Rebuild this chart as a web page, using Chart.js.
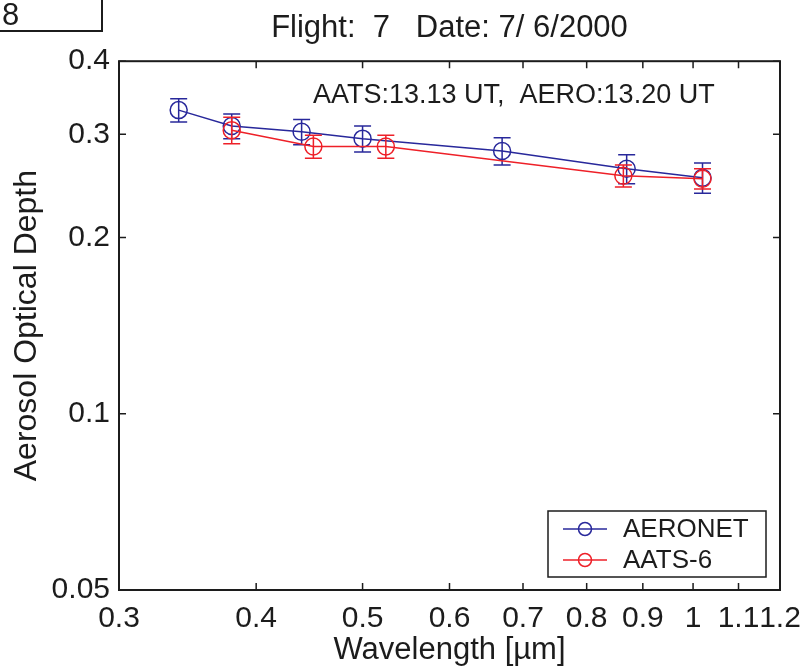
<!DOCTYPE html>
<html>
<head>
<meta charset="utf-8">
<script src="https://cdn.jsdelivr.net/npm/chart.js@4/dist/chart.umd.min.js"></script>
<style>
  body { margin: 0; background: #fff; }
  canvas { display: block; }
</style>
</head>
<body>
<canvas id="aodChart" width="806" height="671"></canvas>
<script>
// AOD spectra, flight 7
const aeronetWl  = [0.340, 0.380, 0.440, 0.500, 0.670, 0.870, 1.020];
const aeronetAod = [0.330, 0.310, 0.303, 0.295, 0.281, 0.262, 0.253];
const aeronetErr = [0.015, 0.015, 0.015, 0.015, 0.015, 0.015, 0.015];

const aatsWl  = [0.380, 0.451, 0.525, 0.864, 1.020];
const aatsAod = [0.305, 0.286, 0.286, 0.255, 0.252];
const aatsErr = [0.016, 0.013, 0.013, 0.011, 0.010];

const xTicks = [0.3, 0.4, 0.5, 0.6, 0.7, 0.8, 0.9, 1, 1.1, 1.2];
const yTicks = [0.05, 0.1, 0.2, 0.3, 0.4];

const BLUE = "rgb(40,40,155)";
const RED = "rgb(238,32,40)";
const INK = "#1c1c1c";
const FONT = "'Liberation Sans', Arial, sans-serif";

Chart.defaults.font.family = FONT;
Chart.defaults.color = INK;

function toPoints(xs, ys, errs) {
  return xs.map((x, i) => ({ x: x, y: ys[i], err: errs[i] }));
}

const overlay = {
  id: "overlay",
  afterDatasetDraw(chart, args) {
    const ctx = chart.ctx;
    const ds = chart.data.datasets[args.index];
    const xs = chart.scales.x, ys = chart.scales.y;
    ctx.save();
    ctx.strokeStyle = ds.borderColor;
    ctx.lineWidth = 1.5;
    ds.data.forEach(p => {
      const px = xs.getPixelForValue(p.x);
      const top = ys.getPixelForValue(p.y + p.err);
      const bot = ys.getPixelForValue(p.y - p.err);
      ctx.beginPath();
      ctx.moveTo(px, top); ctx.lineTo(px, bot);
      ctx.moveTo(px - 8.5, top); ctx.lineTo(px + 8.5, top);
      ctx.moveTo(px - 8.5, bot); ctx.lineTo(px + 8.5, bot);
      ctx.stroke();
    });
    ctx.restore();
  },
  afterDraw(chart) {
    const ctx = chart.ctx;
    const a = chart.chartArea;
    const xs = chart.scales.x, ys = chart.scales.y;
    ctx.save();

    // axes box with inward ticks
    ctx.strokeStyle = INK;
    ctx.lineWidth = 2;
    ctx.strokeRect(a.left, a.top, a.right - a.left, a.bottom - a.top);
    ctx.lineWidth = 1.5;
    ctx.beginPath();
    xTicks.forEach(v => {
      const px = xs.getPixelForValue(v);
      ctx.moveTo(px, a.bottom); ctx.lineTo(px, a.bottom - 7);
      ctx.moveTo(px, a.top); ctx.lineTo(px, a.top + 7);
    });
    yTicks.forEach(v => {
      const py = ys.getPixelForValue(v);
      ctx.moveTo(a.left, py); ctx.lineTo(a.left + 7, py);
      ctx.moveTo(a.right, py); ctx.lineTo(a.right - 7, py);
    });
    ctx.stroke();

    // time stamp
    ctx.fillStyle = INK;
    ctx.font = "27px " + FONT;
    ctx.textAlign = "left";
    ctx.textBaseline = "middle";
    ctx.fillText("AATS:13.13 UT,  AERO:13.20 UT", 313, 96);

    // legend
    const lx = 548, ly = 511, lw = 218, lh = 66;
    ctx.fillStyle = "#fff";
    ctx.fillRect(lx, ly, lw, lh);
    ctx.strokeStyle = INK;
    ctx.lineWidth = 1.5;
    ctx.strokeRect(lx, ly, lw, lh);
    chart.data.datasets.forEach((ds, i) => {
      const y = 529 + i * 31;
      ctx.strokeStyle = ds.borderColor;
      ctx.lineWidth = 1.5;
      ctx.beginPath();
      ctx.moveTo(563, y); ctx.lineTo(607, y);
      ctx.stroke();
      ctx.beginPath();
      ctx.arc(585, y, 6.5, 0, Math.PI * 2);
      ctx.stroke();
      ctx.fillStyle = INK;
      ctx.font = "26px " + FONT;
      ctx.fillText(ds.label, 623, y + 1);
    });

    // page number box
    ctx.strokeStyle = INK;
    ctx.lineWidth = 2;
    ctx.strokeRect(-2, -2, 104, 33);
    ctx.fillStyle = INK;
    ctx.font = "31px " + FONT;
    ctx.fillText("8", 2, 16);

    ctx.restore();
  }
};

new Chart(document.getElementById("aodChart"), {
  type: "scatter",
  data: {
    datasets: [
      {
        label: "AERONET",
        data: toPoints(aeronetWl, aeronetAod, aeronetErr),
        borderColor: BLUE,
        backgroundColor: "rgba(0,0,0,0)",
        showLine: true,
        borderWidth: 1.5,
        pointRadius: 8.5,
        pointBorderWidth: 1.5,
        order: 1
      },
      {
        label: "AATS-6",
        data: toPoints(aatsWl, aatsAod, aatsErr),
        borderColor: RED,
        backgroundColor: "rgba(0,0,0,0)",
        showLine: true,
        borderWidth: 1.5,
        pointRadius: 8.5,
        pointBorderWidth: 1.5,
        order: 0
      }
    ]
  },
  options: {
    responsive: false,
    animation: false,
    layout: { padding: { left: 0, right: 26, top: 0, bottom: 0 } },
    plugins: {
      legend: { display: false },
      tooltip: { enabled: false },
      title: {
        display: true,
        fullSize: false,
        text: "Flight:  7   Date: 7/ 6/2000",
        color: INK,
        font: { size: 31, weight: "normal" },
        padding: { top: 10, bottom: 14 }
      }
    },
    scales: {
      x: {
        type: "logarithmic",
        min: 0.3,
        max: 1.2,
        grid: { display: false, drawTicks: false },
        border: { display: false },
        afterBuildTicks: s => { s.ticks = xTicks.map(v => ({ value: v })); },
        afterFit: s => { s.height = 81; s.paddingLeft = 0; s.paddingRight = 0; },
        ticks: {
          autoSkip: false,
          maxRotation: 0,
          padding: 11,
          color: INK,
          font: { size: 30 },
          callback: v => String(v)
        },
        title: {
          display: true,
          text: "Wavelength [µm]",
          color: INK,
          font: { size: 31 },
          padding: { top: 0, bottom: 2 }
        }
      },
      y: {
        type: "logarithmic",
        min: 0.05,
        max: 0.4,
        grid: { display: false, drawTicks: false },
        border: { display: false },
        afterBuildTicks: s => { s.ticks = yTicks.map(v => ({ value: v })); },
        afterFit: s => { s.width = 119; s.paddingTop = 0; s.paddingBottom = 0; },
        ticks: {
          autoSkip: false,
          padding: 9,
          color: INK,
          font: { size: 30 },
          callback: v => String(v)
        },
        title: {
          display: true,
          text: "Aerosol Optical Depth",
          color: INK,
          font: { size: 32 },
          padding: { top: 8, bottom: 0 }
        }
      }
    }
  },
  plugins: [overlay]
});
</script>
</body>
</html>
